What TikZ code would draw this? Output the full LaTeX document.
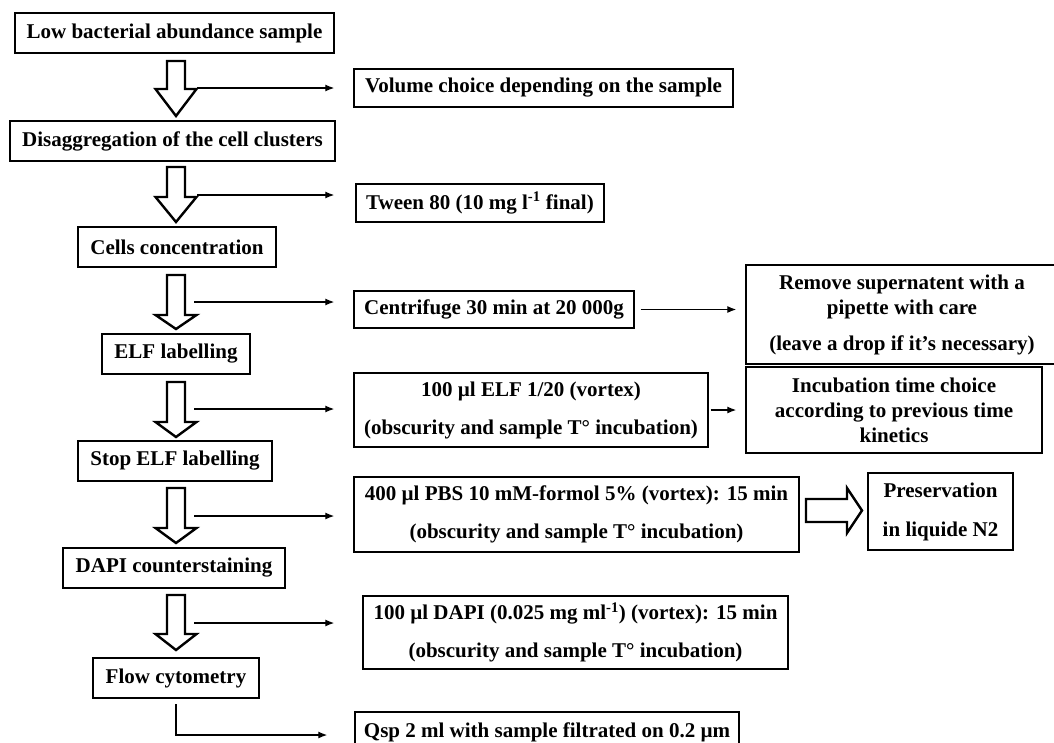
\documentclass[tikz,border=0pt]{standalone}
\usepackage{fontspec}
\setmainfont{Liberation Serif}
\usetikzlibrary{arrows.meta}
\newcommand{\hollowdown}[3]
{   \draw[line width=2.4pt, fill=white] (167,#1) -- (185,#1) -- (185,#2) -- (196.5,#2) -- (176,#3) -- (155.5,#2) -- (167,#2) -- cycle;
}
\newcommand{\hollowright}[2]
{   \draw[line width=2.4pt, fill=white] (#1,#2-11.5) -- (#1+41,#2-11.5) -- (#1+41,#2-22.5) -- (#1+56,#2) -- (#1+41,#2+22.5) -- (#1+41,#2+11.5) -- (#1,#2+11.5) -- cycle;
}
\tikzset{
  mainbox/.style={draw, line width=2.4pt, inner sep=0pt, align=center, font=\fontsize{21}{25}\selectfont\bfseries},
  sidebox/.style={draw, line width=1.4pt, inner sep=0pt, align=center, font=\fontsize{21}{25}\selectfont\bfseries},
  sidearrow/.style={-{Latex[length=9pt,width=7pt]}, line width=1.3pt}
}

\begin{document}
\begin{tikzpicture}[x=1pt,y=-1pt]
 \useasboundingbox (0,0) rectangle (1054,742);

 % main steps
 \node[mainbox, minimum width=319pt, minimum height=40pt] (low) at (174.5,33) {Low bacterial abundance sample};
 \node[mainbox, minimum width=325pt, minimum height=40pt] (disag) at (172.5,141) {Disaggregation of the cell clusters};
 \node[mainbox, minimum width=198pt, minimum height=40pt] (cells) at (177,247) {Cells concentration};
 \node[mainbox, minimum width=148pt, minimum height=40pt] (elf) at (176,354) {ELF labelling};
 \node[mainbox, minimum width=194pt, minimum height=40pt] (stop) at (175,461) {Stop ELF labelling};
 \node[mainbox, minimum width=222pt, minimum height=40pt] (dapi) at (174,568) {DAPI counterstaining};
 \node[mainbox, minimum width=166pt, minimum height=40pt] (flow) at (176,678) {Flow cytometry};

 \hollowdown{61}{89}{116}
 \hollowdown{167}{197}{222}
 \hollowdown{275}{315}{329}
 \hollowdown{382}{422}{437}
 \hollowdown{488}{528}{543}
 \hollowdown{595}{634}{650}

 % side steps
 \node[sidebox, minimum width=379pt, minimum height=38pt] (vol) at (543.5,88) {Volume choice depending on the sample};
 \node[sidebox, minimum width=248pt, minimum height=38pt] (tween) at (480,203) {Tween 80 (10 mg l\textsuperscript{-1} final)};
 \node[sidebox, minimum width=280pt, minimum height=37pt] (cent) at (494,309.5) {Centrifuge 30 min at 20 000g};
 \node[sidebox, minimum width=354pt, minimum height=74pt] (elfd) at (531,410) {100 µl ELF 1/20 (vortex)\\[13pt](obscurity and sample T° incubation)};
 \node[sidebox, minimum width=312pt, minimum height=99pt] (rem) at (902,314.5) {Remove supernatent with a\\pipette with care\\[11pt](leave a drop if it’s necessary)};
 \node[sidebox, minimum width=296pt, minimum height=86pt] (inc) at (894,410) {Incubation time choice\\according to previous time\\kinetics};
 \node[sidebox, minimum width=445pt, minimum height=75pt] (pbs) at (576.5,514.5) {400 µl PBS 10 mM-formol 5\% (vortex): 15 min\\[13pt](obscurity and sample T° incubation)};
 \node[mainbox, minimum width=145pt, minimum height=77pt] (pres) at (940.5,511.5) {Preservation\\[14pt]in liquide N2};
 \node[sidebox, minimum width=425pt, minimum height=73pt] (dapid) at (575.5,632.5) {100 µl DAPI (0.025 mg ml\textsuperscript{-1}) (vortex): 15 min\\[13pt](obscurity and sample T° incubation)};
 \node[sidebox, minimum width=384pt, minimum height=40pt] (qsp) at (547,732) {Qsp 2 ml with sample filtrated on 0.2 µm};

 \coordinate (s1) at (197,88);
 \coordinate (s2) at (197,195);
 \coordinate (s3) at (194,302);
 \coordinate (s4) at (194,409);
 \coordinate (s5) at (194,516);
 \coordinate (s6) at (194,623);
 \draw[sidearrow, shorten >=19pt] (s1) -- (s1 -| vol.west);
 \draw[sidearrow, shorten >=21pt] (s2) -- (s2 -| tween.west);
 \draw[sidearrow, shorten >=19pt] (s3) -- (s3 -| cent.west);
 \draw[sidearrow, shorten >=19pt] (s4) -- (s4 -| elfd.west);
 \draw[sidearrow, shorten >=19pt] (s5) -- (s5 -| pbs.west);
 \draw[sidearrow, shorten >=28pt] (s6) -- (s6 -| dapid.west);
 \draw[sidearrow, shorten <=5pt, shorten >=27pt] (flow.south) |- ([yshift=-3pt]qsp.west);

 \draw[sidearrow, shorten <=6pt, shorten >=9pt] (cent.east) -- (cent.east -| rem.west);
 \draw[sidearrow, shorten <=2pt, shorten >=9pt] (elfd.east) -- (elfd.east -| inc.west);
 \hollowright{806}{510.5}

\end{tikzpicture}
\end{document}
